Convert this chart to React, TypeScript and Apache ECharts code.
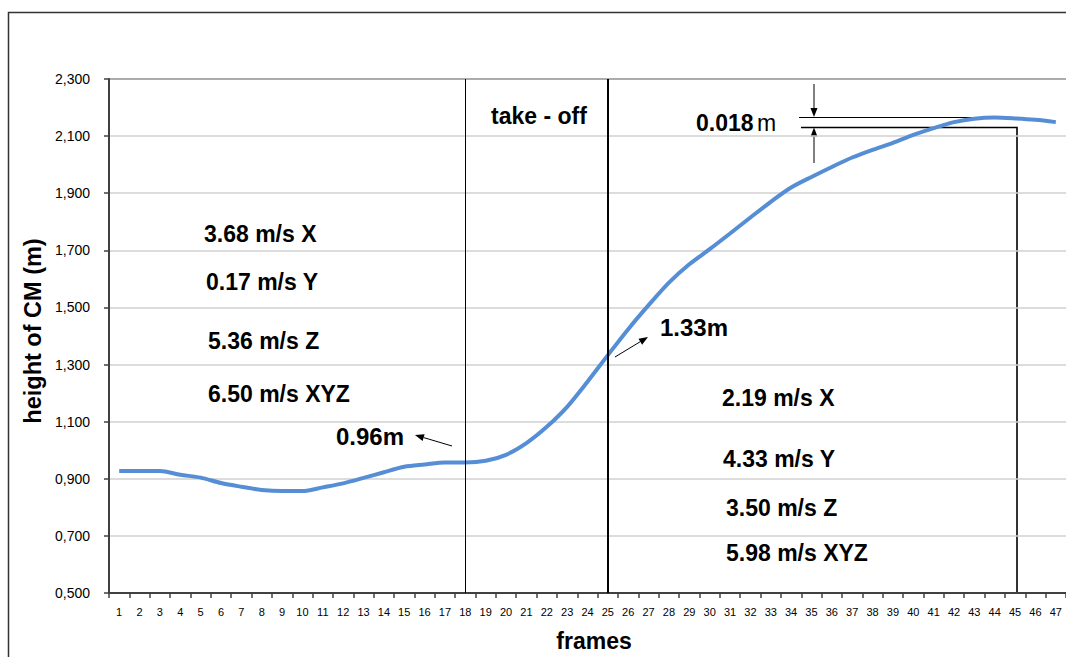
import React, { useEffect, useRef } from "react";
import * as echarts from "echarts";

const frames = [
  "1", "2", "3", "4", "5", "6", "7", "8", "9", "10",
  "11", "12", "13", "14", "15", "16", "17", "18", "19", "20",
  "21", "22", "23", "24", "25", "26", "27", "28", "29", "30",
  "31", "32", "33", "34", "35", "36", "37", "38", "39", "40",
  "41", "42", "43", "44", "45", "46", "47",
];

const heightCM = [
  0.927, 0.927, 0.927, 0.914, 0.904, 0.885, 0.872, 0.861, 0.857, 0.857,
  0.870, 0.884, 0.903, 0.923, 0.942, 0.950, 0.957, 0.957, 0.963, 0.984,
  1.025, 1.082, 1.152, 1.240, 1.333, 1.424, 1.508, 1.587, 1.651, 1.704,
  1.759, 1.815, 1.870, 1.920, 1.957, 1.992, 2.025, 2.052, 2.076, 2.104,
  2.128, 2.149, 2.161, 2.165, 2.162, 2.157, 2.149,
];

const markerFrames = ["18", "25"];

const leftVelocities = ["3.68 m/s X", "0.17 m/s Y", "5.36 m/s Z", "6.50 m/s XYZ"];
const rightVelocities = ["2.19 m/s X", "4.33 m/s Y", "3.50 m/s Z", "5.98 m/s XYZ"];

const FONT = "'Liberation Sans', Arial, sans-serif";

function arrow(x1: number, y1: number, x2: number, y2: number, lw = 1) {
  const dx = x2 - x1;
  const dy = y2 - y1;
  const len = Math.sqrt(dx * dx + dy * dy);
  const ux = dx / len;
  const uy = dy / len;
  const hl = 9;
  const hw = 3.5;
  const bx = x2 - hl * ux;
  const by = y2 - hl * uy;
  const nx = -uy;
  const ny = ux;
  return [
    {
      type: "line",
      shape: { x1, y1, x2: bx, y2: by },
      style: { stroke: "#000", lineWidth: lw },
    },
    {
      type: "polygon",
      shape: {
        points: [
          [x2, y2],
          [bx + hw * nx, by + hw * ny],
          [bx - hw * nx, by - hw * ny],
        ],
      },
      style: { fill: "#000" },
    },
  ];
}

function boldText(text: string, x: number, y: number, size = 23, align = "left") {
  return {
    type: "text",
    x,
    y,
    style: {
      text,
      font: `bold ${size}px ${FONT}`,
      fill: "#000",
      textAlign: align,
      textVerticalAlign: "middle",
    },
  };
}

export default function App() {
  const ref = useRef<HTMLDivElement>(null);

  useEffect(() => {
    if (!ref.current) return;
    const chart = echarts.init(ref.current, undefined, { renderer: "svg" });

    const leftYs = [234, 282, 341, 394];
    const rightYs = [398, 459, 508, 553];
    const leftXs = [204, 206, 208, 208];
    const rightXs = [722, 723, 726, 726];

    const graphics: any[] = [
      {
        type: "polyline",
        shape: { points: [[8.5, 700], [8.5, 12.5], [1100, 12.5]] },
        style: { fill: "none", stroke: "#333", lineWidth: 1.5 },
        silent: true,
      },
      {
        type: "line",
        shape: { x1: 109, y1: 79, x2: 1066, y2: 79 },
        style: { stroke: "#404040", lineWidth: 2 },
      },
      {
        type: "text",
        x: 33,
        y: 331,
        rotation: Math.PI / 2,
        style: {
          text: "height of CM (m)",
          font: `bold 23.5px ${FONT}`,
          fill: "#000",
          textAlign: "center",
          textVerticalAlign: "middle",
        },
      },
      boldText("frames", 594, 641, 23, "center"),
      boldText("take - off", 539, 116, 23, "center"),
      ...leftVelocities.map((t, i) => boldText(t, leftXs[i], leftYs[i])),
      ...rightVelocities.map((t, i) => boldText(t, rightXs[i], rightYs[i])),
      boldText("0.96m", 336, 436, 24),
      boldText("1.33m", 660, 327, 24),
      ...arrow(452, 446, 415, 435),
      ...arrow(615, 357, 648, 337),
      {
        type: "text",
        x: 696,
        y: 123,
        style: {
          rich: {
            b: { font: `bold 23px ${FONT}`, fill: "#000" },
            r: { font: `23px ${FONT}`, fill: "#000" },
          },
          text: "{b|0.018} {r|m}",
          textVerticalAlign: "middle",
        },
      },
      {
        type: "line",
        shape: { x1: 799, y1: 117.5, x2: 1015, y2: 117.5 },
        style: { stroke: "#000", lineWidth: 1 },
      },
      {
        type: "polyline",
        shape: { points: [[801, 127.5], [1017, 127.5], [1017, 593]] },
        style: { stroke: "#000", lineWidth: 1.6, fill: "none" },
      },
      ...arrow(814, 84, 814, 117),
      ...arrow(814, 163, 814, 127.5),
    ];

    chart.setOption({
      animation: false,
      backgroundColor: "#fff",
      grid: { left: 109, top: 79, right: 0, bottom: 64, containLabel: false },
      xAxis: {
        type: "category",
        data: frames,
        boundaryGap: true,
        axisLine: { lineStyle: { color: "#404040", width: 2 } },
        axisTick: { show: true, length: 5, lineStyle: { color: "#404040", width: 1.5 } },
        axisLabel: {
          interval: 0,
          fontSize: 11,
          fontFamily: FONT,
          color: "#000",
          margin: 13,
        },
        splitLine: { show: false },
      },
      yAxis: {
        type: "value",
        min: 0.5,
        max: 2.3,
        interval: 0.2,
        axisLine: { show: true, lineStyle: { color: "#404040", width: 2 } },
        axisTick: { show: true, length: 5, lineStyle: { color: "#404040", width: 1.5 } },
        axisLabel: {
          fontSize: 14,
          fontFamily: FONT,
          color: "#000",
          margin: 19,
          formatter: (v: number) => v.toFixed(3).replace(".", ","),
        },
        splitLine: { lineStyle: { color: "#d0d0d0", width: 1.5 } },
      },
      series: [
        {
          type: "line",
          data: heightCM,
          smooth: 0.3,
          symbol: "none",
          lineStyle: { color: "#558ed5", width: 4 },
          markLine: {
            silent: true,
            symbol: "none",
            label: { show: false },
            data: [
              { xAxis: markerFrames[0], lineStyle: { color: "#000", width: 1, type: "solid" } },
              { xAxis: markerFrames[1], lineStyle: { color: "#000", width: 2, type: "solid" } },
            ],
          },
        },
      ],
      graphic: graphics,
    });

    return () => chart.dispose();
  }, []);

  return (
    <div
      ref={ref}
      style={{ position: "absolute", left: 0, top: 0, width: 1066, height: 657 }}
    />
  );
}
